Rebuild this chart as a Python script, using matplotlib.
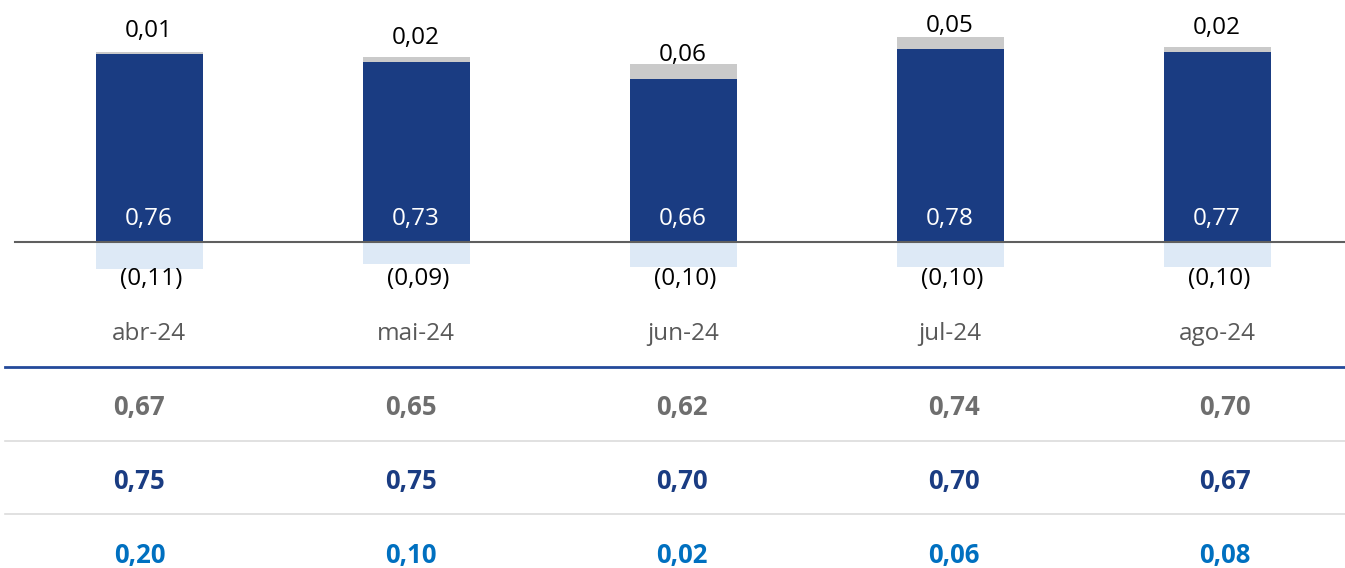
import numpy as np
import matplotlib.pyplot as plt
import matplotlib.transforms as mtransforms

plt.rcParams['font.family'] = ['Open Sans', 'DejaVu Sans']

# data
months = ['abr-24', 'mai-24', 'jun-24', 'jul-24', 'ago-24']
base_vals = [0.76, 0.73, 0.66, 0.78, 0.77]
top_vals = [0.01, 0.02, 0.06, 0.05, 0.02]
neg_vals = [-0.11, -0.09, -0.10, -0.10, -0.10]
row_grey = [0.67, 0.65, 0.62, 0.74, 0.70]
row_navy = [0.75, 0.75, 0.70, 0.70, 0.67]
row_blue = [0.20, 0.10, 0.02, 0.06, 0.08]

def br(v):
    return f"{v:.2f}".replace('.', ',')

W, H = 1345, 568
fig = plt.figure(figsize=(W / 100, H / 100), dpi=100)
ax = fig.add_axes([0, 0, 1, 1])

px_per_unit = 247.0
zero_px = 242.0
ax.set_ylim(-(H - zero_px) / px_per_unit, zero_px / px_per_unit)
step = 267.0
ax.set_xlim(-149 / step, (W - 149) / step)
ax.axis('off')

x = np.arange(len(months))
bw = 107 / step
navy = '#1a3c82'
ax.bar(x, base_vals, width=bw, color=navy, zorder=2)
ax.bar(x, top_vals, width=bw, bottom=base_vals, color='#cacaca', zorder=2)
ax.bar(x, neg_vals, width=bw, color='#dde9f6', zorder=1)
ax.axhline(0, xmin=15 / W, xmax=1, color='#5f5f5f', lw=1.5, zorder=3)

pt = 0.72  # px -> points
fs = 17.5
for i in x:
    ax.annotate(br(base_vals[i]), (i, 0), xytext=(0, 17 * pt), textcoords='offset points',
                ha='center', va='baseline', color='white', fontsize=fs, zorder=4)
    ax.annotate(br(top_vals[i]), (i, base_vals[i]), xytext=(0, 17.5 * pt),
                textcoords='offset points', ha='center', va='baseline', color='black', fontsize=fs)
    ax.annotate(f"({br(-neg_vals[i])})", (i, 0), xytext=(2 * pt, -43 * pt),
                textcoords='offset points', ha='center', va='baseline', color='black', fontsize=fs)

# category labels (figure y in pixels)
trans = mtransforms.blended_transform_factory(ax.transData, fig.transFigure)
def fy(p):
    return 1 - p / H

for i, m in enumerate(months):
    ax.text(i, fy(340), m, transform=trans, ha='center', va='baseline', color='#595959', fontsize=fs)

# table rows: columns sit slightly off the bar centres
tab_x = [(139.5 + 271.4 * i) / W for i in range(len(months))]
for i in range(len(months)):
    fig.text(tab_x[i], fy(415), br(row_grey[i]), ha='center', va='baseline',
             color='#6e6e6e', fontsize=18.5, fontweight='bold')
    fig.text(tab_x[i], fy(489), br(row_navy[i]), ha='center', va='baseline',
             color=navy, fontsize=18.5, fontweight='bold')
    fig.text(tab_x[i], fy(563), br(row_blue[i]), ha='center', va='baseline',
             color='#0070c0', fontsize=18.5, fontweight='bold')

fig.add_artist(plt.Line2D([5 / W, 1], [fy(367), fy(367)], color='#244a9a', lw=2))
for p in (441, 514):
    fig.add_artist(plt.Line2D([5 / W, 1], [fy(p), fy(p)], color='#dcdcdc', lw=1.2))

fig.savefig('out.png', dpi=100)
